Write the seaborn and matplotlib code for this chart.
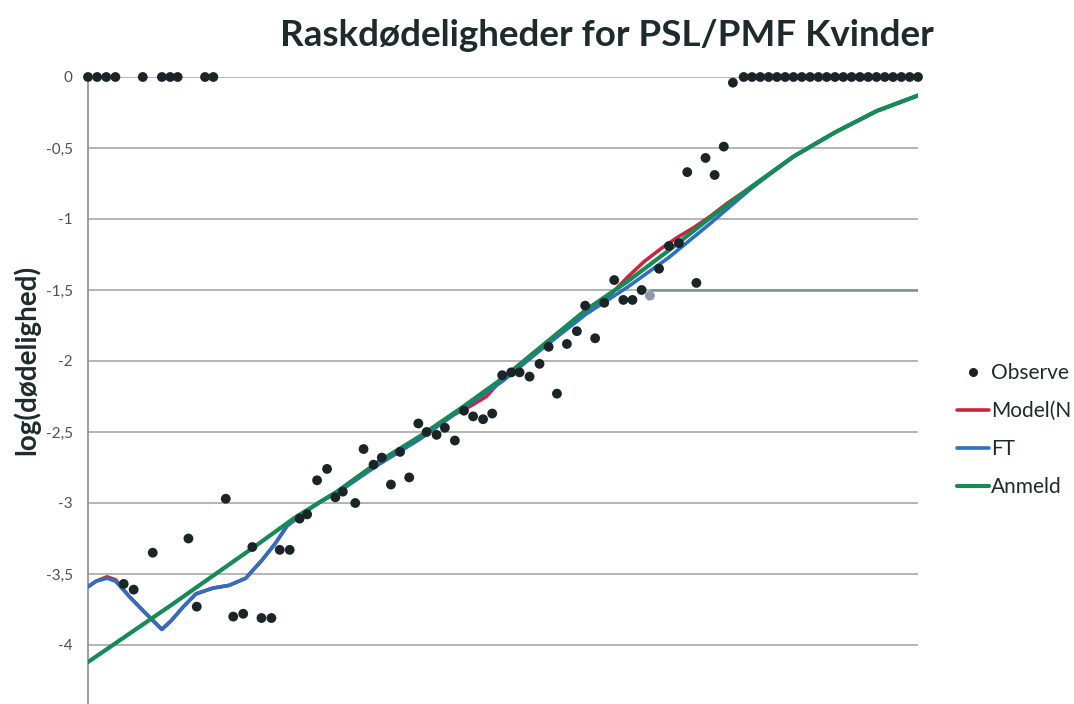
import numpy as np
import pandas as pd
import matplotlib
matplotlib.use("Agg")
import matplotlib.pyplot as plt
import seaborn as sns
from matplotlib.lines import Line2D

# ---------------- data ----------------
title = "Raskdødeligheder for PSL/PMF Kvinder"
y_label = "log(dødelighed)"
y_ticks = [0, -0.5, -1, -1.5, -2, -2.5, -3, -3.5, -4]
y_tick_labels = ["0", "-0,5", "-1", "-1,5", "-2", "-2,5", "-3", "-3,5", "-4"]
# legend texts as far as they are visible in the reference (cut by its right edge)
legend_labels = ["Observe", "Model(N", "FT", "Anmeld"]

obs_age = [0, 1.1, 2.2, 3.3, 4.3, 5.5, 6.6, 7.8, 8.9, 9.9, 10.8, 12.1, 13.1, 14.1, 15.1,
           16.6, 17.5, 18.7, 19.8, 20.9, 22.1, 23.1, 24.3, 25.5, 26.4, 27.6, 28.8, 29.8,
           30.7, 32.2, 33.2, 34.4, 35.4, 36.5, 37.6, 38.7, 39.8, 40.8, 42.0, 43.0, 44.2,
           45.3, 46.4, 47.6, 48.7, 49.9, 51.0, 52.0, 53.2, 54.4, 55.5, 56.5, 57.7, 58.9,
           59.9, 61.1, 62.2, 63.4, 64.5, 65.6, 66.7, 68.8, 70.0, 71.2, 72.2, 73.3, 74.4,
           75.5, 76.6, 77.7, 79, 80, 81, 82, 83, 84, 85, 86, 87, 88, 89, 90, 91, 92, 93,
           94, 95, 96, 97, 98, 99, 100]
obs_val = [0, 0, 0, 0, -3.57, -3.61, 0, -3.35, 0, 0, 0, -3.25, -3.73, 0, 0,
           -2.97, -3.80, -3.78, -3.31, -3.81, -3.81, -3.33, -3.33, -3.11, -3.08, -2.84, -2.76, -2.96,
           -2.92, -3.00, -2.62, -2.73, -2.68, -2.87, -2.64, -2.82, -2.44, -2.50, -2.52, -2.47, -2.56,
           -2.35, -2.39, -2.41, -2.37, -2.10, -2.08, -2.08, -2.11, -2.02, -1.90, -2.23, -1.88, -1.79,
           -1.61, -1.84, -1.59, -1.43, -1.57, -1.57, -1.50, -1.35, -1.19, -1.17, -0.67, -1.45, -0.57,
           -0.69, -0.49, -0.04, 0, 0, 0, 0, 0, 0, 0, 0, 0, 0, 0, 0, 0, 0, 0,
           0, 0, 0, 0, 0, 0, 0]

# highlighted (selected) observation
sel_age = [67.7]
sel_val = [-1.54]

model_age = [0, 1, 2.3, 3.3, 5, 7, 8.9, 10, 11.5, 13, 15, 17, 19, 21, 22.5, 24, 26, 28, 30,
             35, 40, 44, 46, 48, 50, 55, 60, 63, 65, 67, 69, 71, 73, 75, 77, 80, 85, 90, 95, 100]
model_val = [-3.59, -3.55, -3.52, -3.54, -3.66, -3.78, -3.89, -3.83, -3.73, -3.64, -3.60, -3.58,
             -3.53, -3.40, -3.29, -3.16, -3.07, -2.99, -2.92,
             -2.71, -2.53, -2.38, -2.32, -2.25, -2.12, -1.88, -1.64, -1.53, -1.41, -1.30, -1.21,
             -1.13, -1.06, -0.98, -0.89, -0.77, -0.56, -0.39, -0.24, -0.13]

ft_age = [0, 1, 2.3, 3.3, 5, 7, 8.9, 10, 11.5, 13, 15, 17, 19, 21, 22.5, 24, 26, 28, 30,
          35, 40, 45, 50, 55, 60, 65, 70, 75, 77, 80, 85, 90, 95, 100]
ft_val = [-3.59, -3.55, -3.53, -3.55, -3.66, -3.78, -3.89, -3.83, -3.73, -3.64, -3.60, -3.58,
          -3.53, -3.40, -3.29, -3.16, -3.07, -2.99, -2.93,
          -2.73, -2.55, -2.34, -2.14, -1.90, -1.67, -1.48, -1.27, -1.03, -0.93, -0.78,
          -0.56, -0.39, -0.24, -0.13]

anm_age = [0, 10, 20, 25, 30, 35, 40, 45, 50, 55, 60, 65, 70, 75, 80, 85, 90, 95, 100]
anm_val = [-4.12, -3.72, -3.31, -3.10, -2.92, -2.71, -2.53, -2.33, -2.12, -1.88, -1.64,
           -1.44, -1.22, -0.99, -0.77, -0.56, -0.39, -0.24, -0.13]

# ---------------- style ----------------
sns.set_theme(style="white")
plt.rcParams["font.family"] = ["Lato", "DejaVu Sans"]

c_obs = "#1b2528"
c_model = "#c8283f"
c_ft = "#2f6fbf"
c_anm = "#168a57"
c_grid = "#a8a8a8"
c_text = "#1f2a2c"

W, H = 1074, 704
fig = plt.figure(figsize=(W / 100, H / 100), dpi=100)
fig.patch.set_facecolor("white")

# axes: x from px 88 to 918, y=0 at px 77, y=-4.5 below the image edge
ax = fig.add_axes([88 / W, (704 - 716) / H, 830 / W, (716 - 77) / H])
ax.set_xlim(min(anm_age), max(anm_age))
ax.set_ylim(-4.5, 0)

for yt in y_ticks:
    ax.axhline(yt, color=c_grid, lw=1.2, zorder=0)

sns.lineplot(x=model_age, y=model_val, color=c_model, lw=2.6, ax=ax, estimator=None, zorder=2)
sns.lineplot(x=ft_age, y=ft_val, color=c_ft, lw=2.6, ax=ax, estimator=None, zorder=3)
sns.lineplot(x=anm_age, y=anm_val, color=c_anm, lw=3.0, ax=ax, estimator=None, zorder=4)

ax.hlines(-1.5, sel_age[0], ax.get_xlim()[1], color="#7f8e9b", lw=1.8, zorder=1)

sns.scatterplot(x=obs_age, y=obs_val, color=c_obs, s=50, edgecolor="none", ax=ax,
                zorder=6, clip_on=False)
sns.scatterplot(x=sel_age, y=sel_val, color="#8d9ba6", s=50, edgecolor="none", ax=ax,
                zorder=7, clip_on=False)

ax.set_yticks(y_ticks)
ax.set_yticklabels(y_tick_labels, color="#505050", fontsize=11)
ax.tick_params(axis="y", length=0, pad=11)
ax.set_xticks([])
ax.set_xlabel("")
ax.set_ylabel("")
for s in ["top", "right", "bottom"]:
    ax.spines[s].set_visible(False)
ax.spines["left"].set_color("#8c8c8c")
ax.spines["left"].set_linewidth(1.2)

fig.text(607 / W, 1 - 35 / H, title, ha="center", va="center",
         fontsize=26.5, fontweight="bold", color=c_text)
fig.text(26 / W, 1 - 360 / H, y_label, ha="center", va="center", rotation=90,
         fontsize=20, fontweight="bold", color=c_text)

handles = [
    Line2D([], [], ls="none", marker="o", color=c_obs, markersize=5.5),
    Line2D([], [], color=c_model, lw=2.6),
    Line2D([], [], color=c_ft, lw=2.6),
    Line2D([], [], color=c_anm, lw=3.0),
]
leg = ax.legend(handles, legend_labels, loc="center left",
                bbox_to_anchor=(957 / W, 1 - 430 / H), bbox_transform=fig.transFigure,
                frameon=False, fontsize=15, handlelength=1.55, handletextpad=0.1,
                labelspacing=0.86, borderpad=0, borderaxespad=0)
for t in leg.get_texts():
    t.set_color(c_text)

fig.savefig("out.png", dpi=100)
